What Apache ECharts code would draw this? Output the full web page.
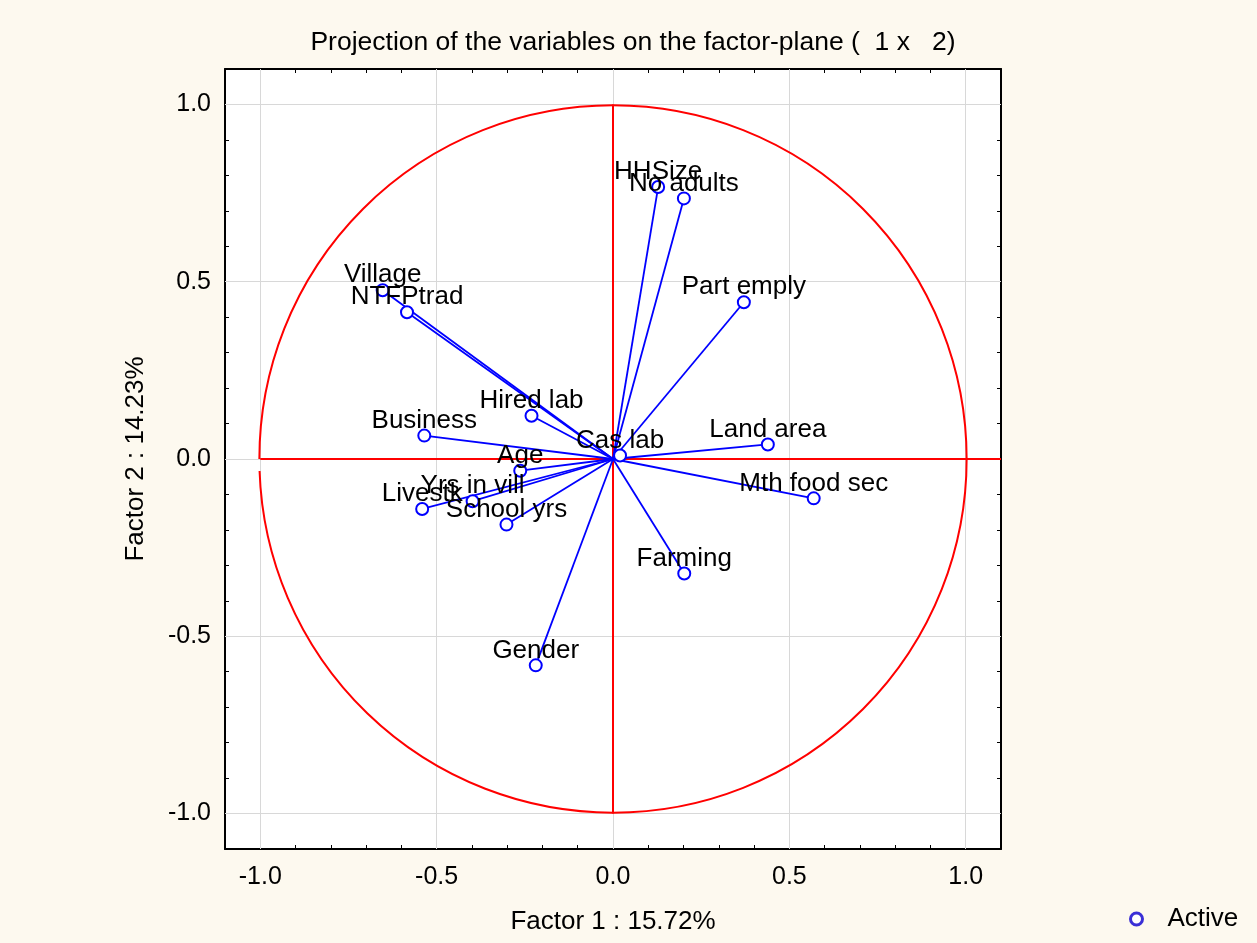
<!DOCTYPE html>
<html>
<head>
<meta charset="utf-8">
<script src="https://cdn.jsdelivr.net/npm/echarts@6/dist/echarts.min.js"></script>
<style>
  html, body { margin: 0; padding: 0; background: #fdf9ef; }
  #chart { width: 1257px; height: 943px; }
</style>
</head>
<body>
<div id="chart"></div>
<script>
// Variable loadings on factors 1 and 2
const variables = ['HHSize', 'No adults', 'Part emply', 'Village', 'NTFPtrad', 'Hired lab', 'Business', 'Cas lab',
  'Land area', 'Age', 'Mth food sec', 'Yrs in vill', 'Livestk', 'School yrs', 'Farming', 'Gender'];
const factor1 = [0.128, 0.201, 0.371, -0.653, -0.584, -0.231, -0.535, 0.020,
  0.439, -0.263, 0.569, -0.398, -0.541, -0.302, 0.202, -0.219];
const factor2 = [0.767, 0.735, 0.442, 0.476, 0.414, 0.122, 0.066, 0.010,
  0.041, -0.033, -0.111, -0.119, -0.141, -0.185, -0.323, -0.582];

// Axis ticks
const majorTicks = [-1.0, -0.5, 0.0, 0.5, 1.0];
const minorTicks = [-1.0, -0.9, -0.8, -0.7, -0.6, -0.5, -0.4, -0.3, -0.2, -0.1, 0.0,
  0.1, 0.2, 0.3, 0.4, 0.5, 0.6, 0.7, 0.8, 0.9, 1.0];
const axisMin = -1.1, axisMax = 1.1;

const chart = echarts.init(document.getElementById('chart'));
const FONT = 'Liberation Sans, Arial, sans-serif';

const pointData = variables.map((n, i) => ({ name: n, value: [factor1[i], factor2[i]] }));
const vectorData = variables.map((n, i) => ({ coords: [[0, 0], [factor1[i], factor2[i]]] }));

const gridData = [];
majorTicks.forEach(t => {
  gridData.push({ coords: [[t, axisMin], [t, axisMax]] });
  gridData.push({ coords: [[axisMin, t], [axisMax, t]] });
});

function baseAxis(extra) {
  return Object.assign({
    type: 'value', min: axisMin, max: axisMax,
    axisLine: { show: true, onZero: false, lineStyle: { color: '#000', width: 2 } },
    axisTick: { show: true, inside: true, length: 4, customValues: minorTicks, lineStyle: { color: '#000', width: 1 } },
    splitLine: { show: false },
    axisLabel: { show: false }
  }, extra);
}

const tickStyle = { fontFamily: FONT, fontSize: 25, color: '#000' };
const textStyle = { fontFamily: FONT, fontSize: 26, color: '#000' };

chart.setOption({
  backgroundColor: '#fdf9ef',
  animation: false,
  title: {
    text: 'Projection of the variables on the factor-plane (  1 x   2)',
    left: 628, top: 24, textAlign: 'center',
    textStyle: { fontFamily: FONT, fontSize: 26.5, fontWeight: 'normal', color: '#000' }
  },
  legend: {
    data: ['Active'],
    left: 1124, top: 901,
    itemWidth: 12, itemHeight: 12, itemGap: 0,
    itemStyle: { color: '#fff', borderColor: '#3a2fd6', borderWidth: 3 },
    textStyle: { fontFamily: FONT, fontSize: 26, color: '#000', padding: [0, 0, 0, 20] }
  },
  grid: { left: 225, top: 69, right: 256, bottom: 94, show: true, backgroundColor: '#fff', borderWidth: 0 },
  xAxis: [
    baseAxis({
      position: 'bottom',
      name: 'Factor 1 : 15.72%', nameLocation: 'middle', nameGap: 60,
      nameTextStyle: textStyle,
      axisLabel: { show: true, customValues: majorTicks, margin: 16, formatter: v => v.toFixed(1), ...tickStyle }
    }),
    baseAxis({ position: 'top' })
  ],
  yAxis: [
    baseAxis({
      position: 'left',
      name: 'Factor 2 : 14.23%', nameLocation: 'middle', nameGap: 76,
      nameTextStyle: textStyle,
      axisLabel: { show: true, customValues: majorTicks, margin: 14, formatter: v => v.toFixed(1), ...tickStyle }
    }),
    baseAxis({ position: 'right' })
  ],
  series: [
    {
      type: 'lines', coordinateSystem: 'cartesian2d', z: 1, silent: true,
      data: gridData,
      lineStyle: { color: '#d8d8d8', width: 1, opacity: 1 }
    },
    {
      // unit circle of correlations, drawn from the left point round to just below it
      type: 'custom', z: 2, silent: true,
      data: [[0, 0]],
      renderItem: (params, api) => {
        const c = api.coord([api.value(0), api.value(1)]);
        const s = api.size([1, 1]);
        return {
          type: 'arc',
          shape: { cx: c[0], cy: c[1], r: (s[0] + s[1]) / 2, startAngle: Math.PI, endAngle: 3 * Math.PI - 0.034, clockwise: true },
          style: { fill: 'none', stroke: '#ff0000', lineWidth: 2 }
        };
      }
    },
    {
      type: 'lines', coordinateSystem: 'cartesian2d', z: 3, silent: true,
      data: [{ coords: [[-1, 0], [axisMax, 0]] }, { coords: [[0, -1], [0, 1]] }],
      lineStyle: { color: '#ff0000', width: 2, opacity: 1 }
    },
    {
      type: 'lines', coordinateSystem: 'cartesian2d', z: 4, silent: true,
      data: vectorData,
      lineStyle: { color: '#0000ff', width: 1.8, opacity: 1 }
    },
    {
      name: 'Active', type: 'scatter', z: 5,
      data: pointData,
      symbol: 'circle', symbolSize: 12,
      itemStyle: { color: '#fff', borderColor: '#0000ff', borderWidth: 2, opacity: 1 },
      label: {
        show: true, position: 'inside', offset: [0, -15],
        formatter: '{b}', ...textStyle
      }
    }
  ]
});
</script>
</body>
</html>
